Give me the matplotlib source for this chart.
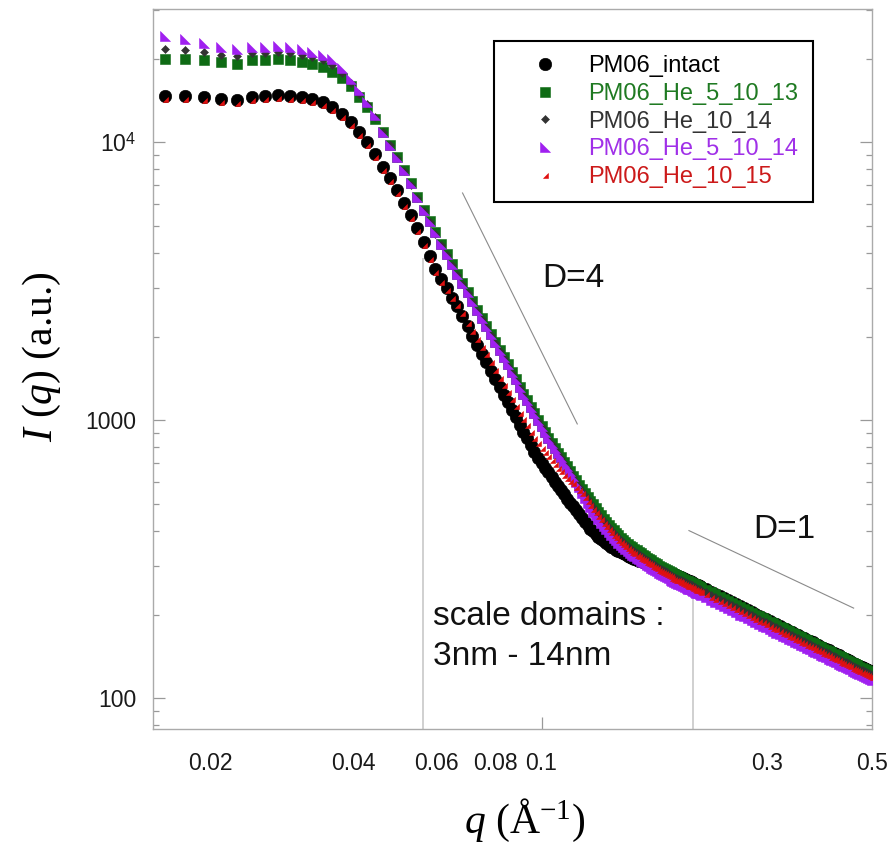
import matplotlib
matplotlib.use('Agg')
import matplotlib.pyplot as plt
from matplotlib.path import Path
from matplotlib.lines import Line2D
from matplotlib.ticker import LogLocator, NullFormatter

plt.rcParams['font.family'] = ['Liberation Sans', 'DejaVu Sans']
plt.rcParams['mathtext.fontset'] = 'custom'
plt.rcParams['mathtext.rm'] = 'Liberation Serif'
plt.rcParams['mathtext.it'] = 'Liberation Serif:italic'
plt.rcParams['mathtext.bf'] = 'Liberation Serif:bold'
plt.rcParams['mathtext.sf'] = 'Liberation Sans'

# ---------------- data ----------------
q = [0.01600, 0.01768, 0.01936, 0.02104, 0.02272, 0.02440, 0.02608, 0.02776, 0.02944, 0.03112,
     0.03280, 0.03448, 0.03616, 0.03784, 0.03952, 0.04120, 0.04288, 0.04456, 0.04624, 0.04792,
     0.04960, 0.05128, 0.05296, 0.05464, 0.05632, 0.05800, 0.05968, 0.06136, 0.06304, 0.06472,
     0.06640, 0.06808, 0.06976, 0.07144, 0.07312, 0.07480, 0.07648, 0.07816, 0.07984, 0.08152,
     0.08320, 0.08488, 0.08656, 0.08824, 0.08992, 0.09160, 0.09328, 0.09496, 0.09664, 0.09832,
     0.10000, 0.10168, 0.10336, 0.10504, 0.10672, 0.10840, 0.11008, 0.11176, 0.11344, 0.11512,
     0.11680, 0.11848, 0.12016, 0.12184, 0.12352, 0.12520, 0.12688, 0.12856, 0.13024, 0.13192,
     0.13360, 0.13528, 0.13696, 0.13864, 0.14032, 0.14200, 0.14368, 0.14536, 0.14704, 0.14872,
     0.15040, 0.15208, 0.15376, 0.15544, 0.15712, 0.15880, 0.16048, 0.16216, 0.16384, 0.16552,
     0.16720, 0.16888, 0.17056, 0.17224, 0.17392, 0.17560, 0.17728, 0.17896, 0.18064, 0.18232,
     0.18400, 0.18568, 0.18736, 0.18904, 0.19072, 0.19240, 0.19408, 0.19576, 0.19744, 0.19912,
     0.20080, 0.20248, 0.20416, 0.20584, 0.20752, 0.20920, 0.21088, 0.21256, 0.21424, 0.21592,
     0.21760,
     0.22264, 0.22768, 0.23272, 0.23776, 0.24280, 0.24784, 0.25288, 0.25792, 0.26296, 0.26800,
     0.27304, 0.27808, 0.28312, 0.28816, 0.29320, 0.29824, 0.30328, 0.30832, 0.31336, 0.31840,
     0.32344, 0.32848, 0.33352, 0.33856, 0.34360, 0.34864, 0.35368, 0.35872, 0.36376, 0.36880,
     0.37384, 0.37888, 0.38392, 0.38896, 0.39400, 0.39904, 0.40408, 0.40912, 0.41416, 0.41920,
     0.42424, 0.42928, 0.43432, 0.43936, 0.44440, 0.44944, 0.45448, 0.45952, 0.46456, 0.46960,
     0.47464, 0.47968, 0.48472, 0.48976, 0.49480, 0.49984]

intact = [14700, 14700, 14500, 14300, 14200, 14600, 14700, 14800, 14700, 14500,
          14300, 13950, 13400, 12650, 11800, 10850, 10000, 9050, 8150, 7450,
          6750, 6050, 5480, 4920, 4380, 3890, 3500, 3220, 2980, 2760,
          2570, 2380, 2180, 2010, 1860, 1735, 1620, 1510, 1410, 1318,
          1235, 1160, 1090, 1025, 965, 910, 860, 813, 770, 733,
          700, 674, 650, 625, 602, 580, 560, 541, 523, 506,
          490, 475, 460, 446, 432, 420, 408, 398, 389, 381,
          373, 367, 361, 356, 351, 346.5, 342, 338.5, 335, 332,
          329, 326, 323, 320.5, 318, 315.5, 313, 310.5, 308, 306,
          304, 302, 300, 298.2, 296.5, 294.7, 293, 291.2, 289.5, 287.7,
          286, 284.2, 282.5, 280.7, 279, 277.2, 275.5, 273.7, 272, 270.2,
          268.5, 266.7, 265, 263.2, 261.5, 259.7, 258, 256.3, 254.5, 252.8,
          251,
          246.6, 241.9, 237.5, 233.2, 229.1, 225.1, 221.3, 217.6, 214.0, 210.6,
          207.3, 204.1, 201.0, 198.0, 195.1, 192.3, 189.6, 187.0, 184.4, 181.9,
          179.5, 177.2, 174.9, 172.7, 170.5, 168.4, 166.4, 164.4, 162.4, 160.6,
          158.7, 156.9, 155.2, 153.5, 151.8, 150.2, 148.6, 147.0, 145.5, 144.0,
          142.5, 141.1, 139.7, 138.4, 137.0, 135.7, 134.4, 133.2, 132.0, 130.7,
          129.6, 128.4, 127.3, 126.2, 125.1, 124.0]

he_5_10_13 = [19900, 19900, 19700, 19400, 19100, 19800, 19800, 19900, 19800, 19400,
              19100, 18700, 17900, 17000, 15900, 14500, 13350, 12100, 10850, 9780,
              8870, 7950, 7120, 6380, 5730, 5200, 4740, 4300, 3960, 3650,
              3370, 3120, 2900, 2695, 2500, 2335, 2180, 2040, 1910, 1795,
              1690, 1588, 1490, 1402, 1320, 1247, 1180, 1118, 1060, 1006,
              955, 909, 865, 830, 796, 765, 736, 709, 683, 656,
              630, 610, 586, 566, 546, 529, 512, 498, 483, 468,
              455, 443, 431.5, 421.3, 411, 401.8, 393.6, 385.4, 378.2, 371.6,
              364.9, 359.3, 353.6, 349, 344.4, 340.3, 336.2, 332.1, 328, 324.4,
              320.8, 317.2, 313.7, 310.3, 307, 303.6, 300.3, 297.5, 294.7, 291.8,
              289.1, 286.5, 283.9, 281.4, 278.8, 276.8, 274.7, 272.7, 270.6, 268.8,
              267, 265.2, 263.4, 261.7, 259.9, 258.2, 256.6, 254.8, 253.1, 251.3,
              249.6,
              245.4, 240.7, 236.3, 232.0, 228.0, 224.0, 220.2, 216.5, 212.9, 209.5,
              206.3, 203.1, 200.0, 197.0, 194.1, 191.3, 188.7, 186.1, 183.5, 181.0,
              178.6, 176.3, 174.0, 171.8, 169.6, 167.6, 165.6, 163.6, 161.6, 159.8,
              157.9, 156.1, 154.4, 152.7, 151.0, 149.4, 147.9, 146.3, 144.8, 143.3,
              141.8, 140.4, 139.0, 137.7, 136.3, 135.0, 133.7, 132.5, 131.3, 130.0,
              129.0, 127.8, 126.7, 125.6, 124.5, 123.4]

he_10_14 = [21600, 21400, 21100, 20600, 20400, 20900, 21000, 21100, 20900, 20600,
            20200, 19800, 19000, 17800, 16400, 14900, 13700, 12300, 10850, 9750,
            8781, 7871, 7049, 6316, 5673, 5148, 4693, 4257, 3920, 3614,
            3336, 3089, 2871, 2668, 2475, 2312, 2158, 2020, 1891, 1777,
            1673, 1572, 1475, 1388, 1307, 1235, 1168, 1107, 1049, 996,
            945, 900, 856, 822, 788, 757, 729, 702, 676, 649,
            624, 601, 577, 558, 538, 519, 502, 488.4, 473.4, 459.3,
            446.2, 434.2, 423.1, 413.1, 403, 394, 385.9, 377.9, 370.8, 364.3,
            357.8, 352.3, 346.7, 342.2, 337.7, 333.7, 329.6, 325.6, 321.6, 318.1,
            314.6, 311, 307.5, 304.2, 301, 297.7, 294.5, 291.7, 288.9, 286.1,
            283.4, 280.9, 278.4, 275.9, 273.4, 271.4, 269.3, 267.3, 265.3, 263.5,
            261.8, 260, 258.3, 256.6, 254.9, 253.2, 251.6, 249.8, 248.1, 246.4,
            244.7,
            240.4, 235.9, 231.6, 227.4, 223.4, 219.5, 215.8, 212.2, 208.7, 205.3,
            202.1, 199.0, 196.0, 193.1, 190.2, 187.5, 184.9, 182.3, 179.8, 177.4,
            175.0, 172.8, 170.5, 168.4, 166.2, 164.2, 162.2, 160.3, 158.3, 156.6,
            154.7, 153.0, 151.3, 149.7, 148.0, 146.4, 144.9, 143.3, 141.9, 140.4,
            138.9, 137.6, 136.2, 134.9, 133.6, 132.3, 131.0, 129.9, 128.7, 127.4,
            126.4, 125.2, 124.1, 123.0, 122.0, 120.9]

he_5_10_14 = [24100, 23500, 22800, 22100, 21600, 22100, 22100, 22200, 22000, 21600,
              21100, 20600, 19900, 18500, 16900, 15400, 14000, 12500, 10900, 9800,
              8870, 7950, 7120, 6380, 5730, 5200, 4740, 4300, 3960, 3650,
              3370, 3120, 2900, 2695, 2500, 2335, 2180, 2040, 1910, 1795,
              1690, 1588, 1490, 1402, 1320, 1247, 1180, 1118, 1060, 1006,
              955, 909, 865, 830, 796, 765, 736, 709, 683, 656,
              630, 598, 574, 547, 527, 506, 489, 469, 454.5, 441,
              428.5, 416.9, 406.3, 396.6, 387, 378.3, 370.6, 362.8, 356.1, 349.8,
              343.5, 338.2, 332.9, 328.6, 324.2, 320.4, 316.5, 312.7, 308.8, 305.4,
              302, 298.7, 295.3, 292.1, 289, 285.8, 282.7, 280, 277.4, 274.7,
              272.1, 269.7, 267.3, 264.9, 262.5, 260.6, 258.6, 256.7, 254.8, 253,
              251.4, 249.6, 248, 246.4, 244.7, 243.1, 241.5, 239.9, 238.3, 236.6,
              235,
              230.6, 226.2, 222.1, 218.0, 214.2, 210.5, 206.9, 203.5, 200.1, 196.9,
              193.8, 190.8, 187.9, 185.1, 182.4, 179.8, 177.3, 174.8, 172.4, 170.1,
              167.8, 165.7, 163.5, 161.5, 159.4, 157.5, 155.6, 153.7, 151.8, 150.2,
              148.4, 146.7, 145.1, 143.5, 141.9, 140.4, 138.9, 137.4, 136.0, 134.6,
              133.2, 131.9, 130.6, 129.4, 128.1, 126.9, 125.7, 124.5, 123.4, 122.2,
              121.2, 120.1, 119.0, 118.0, 117.0, 115.9]

he_10_15 = [14330, 14330, 14140, 13940, 13850, 14240, 14330, 14430, 14330, 14140,
            13940, 13600, 13070, 12330, 11510, 10580, 9750, 8820, 7950, 7260,
            6580, 5900, 5340, 4800, 4270, 3790, 3410, 3140, 2950, 2760,
            2596, 2428, 2245, 2090, 1953, 1839, 1725, 1616, 1516, 1423,
            1340, 1264, 1194, 1128, 1066, 1010, 959, 911, 866, 828,
            795, 768, 744, 719, 695, 673, 655, 638, 622, 607,
            593, 577, 561, 546, 531, 514, 497, 481, 466, 452,
            440, 428, 417, 407, 397, 388, 380, 372, 365, 359,
            352.4, 347, 341.6, 337, 332.6, 328.7, 324.7, 320.8, 316.8, 313.3,
            309.9, 306.4, 302.9, 299.7, 296.5, 293.2, 290.1, 287.3, 284.6, 281.9,
            279.2, 276.7, 274.2, 271.8, 269.3, 267.3, 265.3, 263.3, 261.4, 259.6,
            257.9, 256.1, 254.4, 252.7, 251.1, 249.4, 247.8, 246.1, 244.4, 242.7,
            241.1,
            236.7, 232.2, 228.0, 223.9, 219.9, 216.1, 212.4, 208.9, 205.4, 202.2,
            199.0, 195.9, 193.0, 190.1, 187.3, 184.6, 182.0, 179.5, 177.0, 174.6,
            172.3, 170.1, 167.9, 165.8, 163.7, 161.7, 159.7, 157.8, 155.9, 154.2,
            152.4, 150.6, 149.0, 147.4, 145.7, 144.2, 142.7, 141.1, 139.7, 138.2,
            136.8, 135.5, 134.1, 132.9, 131.5, 130.3, 129.0, 127.9, 126.7, 125.5,
            124.4, 123.3, 122.2, 121.2, 120.1, 119.0]

labels = ['PM06_intact', 'PM06_He_5_10_13', 'PM06_He_10_14', 'PM06_He_5_10_14', 'PM06_He_10_15']

x_tick_major = [0.1]
x_tick_major_labels = ['0.1']
x_tick_minor = [0.02, 0.04, 0.06, 0.08, 0.3, 0.5]
x_tick_minor_labels = ['0.02', '0.04', '0.06', '0.08', '0.3', '0.5']
y_ticks = [100, 1000, 10000]
y_tick_labels = ['100', '1000', r'10$^{\mathsf{4}}$']

# guide lines (scale domains and slopes)
domain_q = [0.0562, 0.2087]
domain_top = [3850, 230]
d4_q = [0.0681, 0.119]
d4_I = [6571, 970]
d1_q = [0.2049, 0.4566]
d1_I = [401, 211]

# ---------------- figure ----------------
fig = plt.figure(figsize=(8.91, 8.55), dpi=100)
ax = fig.add_axes([0.1714, 0.1477, 0.8076, 0.8418])
ax.set_xscale('log')
ax.set_yscale('log')
xlim = (0.01508, 0.5)
ylim = (77.7, 30170)
ax.set_xlim(*xlim)
ax.set_ylim(*ylim)

tri_bl = Path([(-1, 1), (-1, -1), (1, -1), (-1, 1)],
              [Path.MOVETO, Path.LINETO, Path.LINETO, Path.CLOSEPOLY])
tri_br = Path([(1, 1), (1, -1), (-1, -1), (1, 1)],
              [Path.MOVETO, Path.LINETO, Path.LINETO, Path.CLOSEPOLY])

styles = [
    dict(marker='o', ms=9.0, color='#000000'),
    dict(marker='s', ms=6.8, color='#0e6b14'),
    dict(marker='D', ms=4.3, color='#333333'),
    dict(marker=tri_bl, ms=7.5, color='#a020f0'),
    dict(marker=tri_br, ms=3.6, color='#e01010'),
]
text_colors = ['#000000', '#1f7a22', '#333333', '#a030e8', '#cc1a1a']
series = [intact, he_5_10_13, he_10_14, he_5_10_14, he_10_15]

# guide lines
for xq, top in zip(domain_q, domain_top):
    ax.vlines(xq, ylim[0], top, color='#c8c8c8', lw=1.2, zorder=1)
ax.plot(d4_q, d4_I, color='#8a8a8a', lw=0.8, zorder=1)
ax.plot(d1_q, d1_I, color='#8a8a8a', lw=0.8, zorder=1)

handles = []
for i, (vals, st) in enumerate(zip(series, styles)):
    ax.plot(q, vals, ls='none', marker=st['marker'], ms=st['ms'],
            mfc=st['color'], mec=st['color'], mew=0.4, zorder=3 + i)
    handles.append(Line2D([], [], ls='none', marker=st['marker'], ms=st['ms'],
                          mfc=st['color'], mec=st['color'], mew=0.4))

# spines
for sp in ax.spines.values():
    sp.set_color('#aaaaaa')
    sp.set_linewidth(1.0)

# ticks
ax.set_xticks(x_tick_major, x_tick_major_labels)
ax.set_xticks(x_tick_minor, x_tick_minor_labels, minor=True)
ax.tick_params(axis='x', which='major', direction='in', length=8.5, width=0.9,
               color='#999999', top=False, bottom=True, pad=17, labelsize=16.5,
               labelcolor='#1a1a1a')
ax.tick_params(axis='x', which='minor', length=0, pad=17, labelsize=16.5,
               labelcolor='#1a1a1a', top=False)

ax.set_yticks(y_ticks, y_tick_labels)
ax.yaxis.set_minor_locator(LogLocator(base=10, subs=(2, 3, 4, 5, 6, 7, 8, 9)))
ax.yaxis.set_minor_formatter(NullFormatter())
ax.tick_params(axis='y', which='major', direction='in', length=8.6, width=0.9,
               color='#999999', left=True, right=True, pad=12, labelsize=16.5,
               labelcolor='#1a1a1a')
ax.tick_params(axis='y', which='minor', direction='in', length=4.3, width=0.9,
               color='#999999', left=True, right=True)

# legend
leg = ax.legend(handles, labels, loc='upper left',
                bbox_to_anchor=(0.4743, 0.7318, 0.4433, 0.2237), mode='expand',
                borderaxespad=0, fontsize=17, labelcolor=text_colors,
                frameon=True, fancybox=False, framealpha=1, edgecolor='black',
                borderpad=0.6, handlelength=3.1, handletextpad=0.3,
                labelspacing=0.24, numpoints=1)
leg.get_frame().set_linewidth(1.5)
leg.set_zorder(10)

# annotations
ax.text(0.541, 0.6137, 'D=4', transform=ax.transAxes, fontsize=24,
        ha='left', va='baseline', color='#111111')
ax.text(0.834, 0.265, 'D=1', transform=ax.transAxes, fontsize=24,
        ha='left', va='baseline', color='#111111')
ax.text(0.3895, 0.1441, 'scale domains :', transform=ax.transAxes, fontsize=24,
        ha='left', va='baseline', color='#111111')
ax.text(0.3895, 0.0885, '3nm - 14nm', transform=ax.transAxes, fontsize=24,
        ha='left', va='baseline', color='#111111')

# axis labels
fig.text(42 / 891, 1 - 357 / 855, r'$I\ (q)$ (a.u.)', rotation=90,
         ha='center', va='center', fontsize=30, family='Liberation Serif')
fig.text(525 / 891, 1 - 820 / 855, r'$q$ ($\mathrm{Å}^{-1}$)',
         ha='center', va='center', fontsize=30, family='Liberation Serif')

fig.savefig('out.png', dpi=100)
